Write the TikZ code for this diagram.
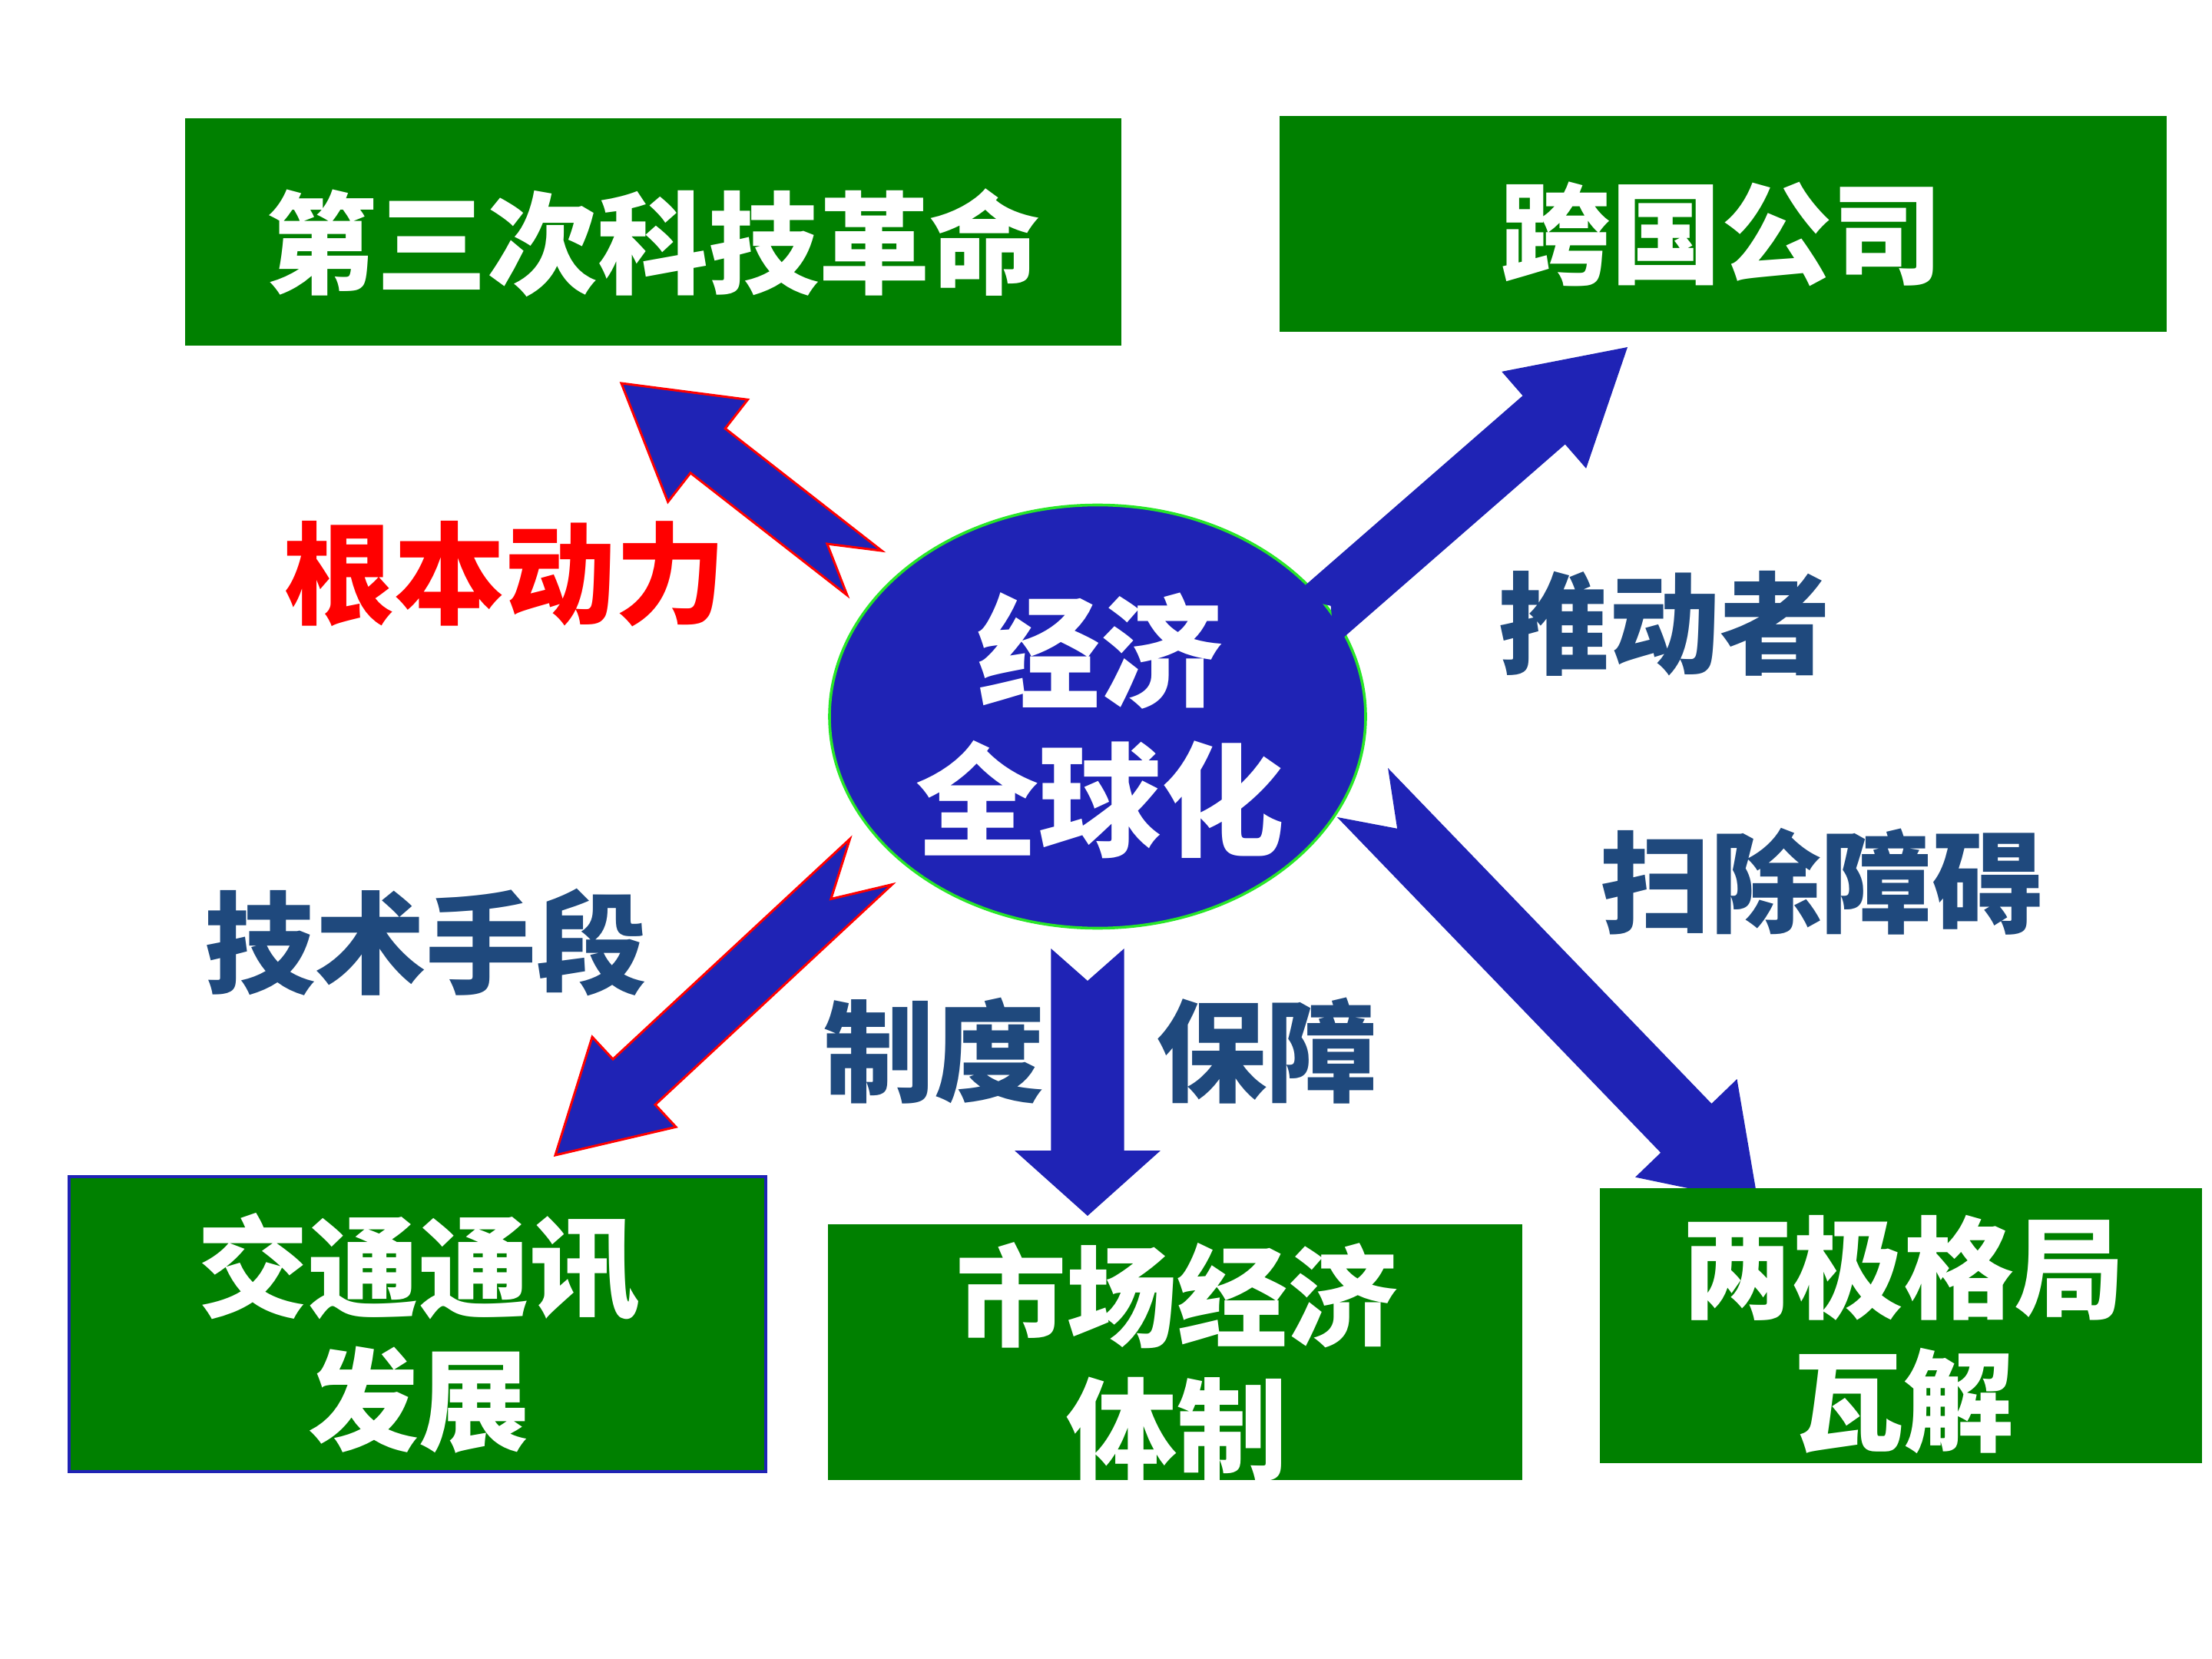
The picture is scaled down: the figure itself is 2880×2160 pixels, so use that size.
\documentclass[tikz,border=0pt]{standalone}
\usepackage{fontspec}
\newfontfamily\cjk{Noto Sans CJK SC}
\usetikzlibrary{shapes.geometric,calc,fit}
\definecolor{boxgreen}{RGB}{0,128,0}
\definecolor{arrowblue}{RGB}{31,35,181}
\definecolor{labelblue}{RGB}{31,73,125}
\definecolor{ringgreen}{RGB}{40,230,40}
\definecolor{hotred}{RGB}{255,0,0}
% #1 style, #2 tail coordinate, #3 tip coordinate, #4 half shaft width,
% #5 half head width, #6 head length, #7 tail notch depth
\newcommand\fatarrow[7]{%
  \coordinate (#2-base) at ($(#3)!#6!(#2)$);
  \path[#1] ($(#2)!#4!90:(#3)$) -- ($(#2-base)!#4!-90:(#2)$)
    -- ($(#2-base)!#5!-90:(#2)$) -- (#3) -- ($(#2-base)!#5!90:(#2)$)
    -- ($(#2-base)!#4!90:(#2)$) -- ($(#2)!#4!-90:(#3)$)
    -- ($(#2)!#7!(#3)$) -- cycle;}
\begin{document}
\begin{tikzpicture}[x=0.25pt,y=-0.25pt,
  gbox/.style={fill=boxgreen,draw=none,inner sep=0pt},
  boxtext/.style={text=white,align=center,inner sep=0pt,
    font=\cjk\bfseries\fontsize{36}{43.2}\selectfont},
  coretext/.style={text=white,align=center,inner sep=0pt,
    font=\cjk\bfseries\fontsize{40}{48.2}\selectfont},
  lbl/.style={text=labelblue,inner sep=0pt,
    font=\cjk\bfseries\fontsize{36}{43.2}\selectfont},
  redarrow/.style={fill=arrowblue,draw=hotred,line width=0.75pt,line join=miter},
  bluearrow/.style={fill=arrowblue,draw=none}]
\useasboundingbox (0,0) rectangle (2880,2160);
\fill[white] (0,0) rectangle (2880,2160);

% central ellipse
\node[ellipse,fill=arrowblue,draw=ringgreen,line width=0.9pt,inner sep=0pt,
  minimum width=174.5pt,minimum height=137.75pt] (core) at (1429,933) {};

% arrow end points
\coordinate (a1t) at (1125.5,746);  \coordinate (a1p) at (809,499);
\coordinate (a2t) at (1710,808.5);  \coordinate (a2p) at (2119,452);
\coordinate (a3t) at (1134,1122);   \coordinate (a3p) at (723,1504);
\coordinate (a4t) at (1416,1235);   \coordinate (a4p) at (1416,1583);
\coordinate (a5t) at (1774,1032);   \coordinate (a5p) at (2289,1566);

\fatarrow{redarrow}{a1t}{a1p}{9.17pt}{21.1pt}{35.7pt}{15.4pt}
\fatarrow{bluearrow}{a2t}{a2p}{10.5pt}{20.9pt}{36.1pt}{7.5pt}
\fatarrow{redarrow}{a3t}{a3p}{10.1pt}{20pt}{35pt}{17.8pt}
\fatarrow{bluearrow}{a4t}{a4p}{11.9pt}{23.75pt}{21.25pt}{10.5pt}
\fatarrow{bluearrow}{a5t}{a5p}{11.5pt}{23pt}{33.75pt}{16.25pt}

% green boxes
\node[gbox,fit={(241,154) (1460,450)}] (b1) {};
\node[gbox,fit={(1666,151) (2821,432)}] (b2) {};
\node[gbox,draw=arrowblue,line width=1pt,fit={(90,1532) (997,1916)}] (b3) {};
\node[gbox,fit={(1078,1594) (1982,1927)}] (b4) {};
\node[gbox,fit={(2083,1547) (2867,1905)}] (b5) {};

% box texts
\node[boxtext] (t1) at (850,316) {第三次科技革命};
\node[boxtext] (t2) at (2241,305) {跨国公司};
\node[boxtext] (t3) at (545.5,1736) {交通通讯\\发展};
\node[boxtext] (t4) at (1532,1773) {市场经济\\体制};
\node[boxtext] (t5) at (2478,1737.5) {两极格局\\瓦解};

% core text
\node[coretext] (ct) at (1432,945) {经济\\全球化};

% arrow labels
\node[lbl,text=hotred] (l1) at (657.5,747.5) {根本动力};
\node[lbl] (l2) at (2167,812) {推动者};
\node[lbl] (l3) at (2371,1148) {扫除障碍};
\node[lbl] (l4) at (554.7,1227) {技术手段};
\node[lbl] (l5) at (1216,1368) {制度};
\node[lbl] (l6) at (1649,1368) {保障};
\end{tikzpicture}
\end{document}
